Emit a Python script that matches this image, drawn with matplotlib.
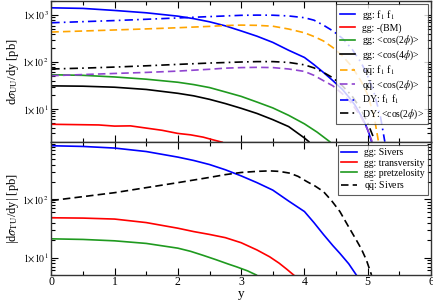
import numpy as np
import matplotlib
matplotlib.use("Agg")
import matplotlib.pyplot as plt
from matplotlib.ticker import LogLocator, FixedLocator, NullFormatter, FuncFormatter

plt.rcParams['font.family'] = ['Liberation Serif', 'DejaVu Serif']
plt.rcParams['mathtext.fontset'] = 'stix'

# ---------------- data ----------------
# Top panel
x_gg_f1 = [0, 0.5, 1, 1.5, 2, 2.25, 2.5, 2.75, 3, 3.25, 3.5, 3.75, 4, 4.15, 4.3, 4.45, 4.6, 4.7, 4.8, 4.9, 4.97, 5.02, 5.06]
y_gg_f1 = [1430, 1390, 1257, 1120, 950, 840, 720, 590, 460, 355, 262, 178, 125, 88, 60, 40, 26, 18, 12, 7, 4.5, 3, 2]

x_gg_bm = [0, 0.25, 0.5, 0.75, 1, 1.25, 1.5, 1.75, 2, 2.2, 2.4, 2.55, 2.7]
y_gg_bm = [4.7, 4.65, 4.6, 4.55, 4.3, 4.35, 3.9, 3.5, 3.0, 2.8, 2.5, 2.2, 1.95]

x_gg_c2 = [0, 0.5, 1, 1.5, 2, 2.25, 2.5, 2.75, 3, 3.25, 3.5, 3.75, 4, 4.2, 4.4]
y_gg_c2 = [53.5, 52, 48, 43, 37, 33, 28.5, 23, 18.5, 14, 10.5, 7.3, 4.8, 3.2, 2]

x_gg_c4 = [0, 0.5, 1, 1.5, 2, 2.25, 2.5, 2.75, 3, 3.25, 3.5, 3.75, 3.9, 4.0, 4.07]
y_gg_c4 = [31, 30.5, 29, 26, 21.5, 19, 16, 13, 10.3, 8, 5.9, 4.2, 3.0, 2.4, 2]

x_qq_f1 = [0, 0.5, 1, 1.5, 2, 2.5, 2.75, 3, 3.25, 3.5, 3.75, 4, 4.15, 4.3, 4.45, 4.6, 4.75, 4.9, 5.0, 5.1, 5.17]
y_qq_f1 = [436, 458, 482, 508, 538, 575, 600, 612, 605, 580, 505, 420, 350, 281, 203, 135, 80, 38, 20, 7, 2]

x_qq_c2 = [0, 0.5, 1, 1.5, 2, 2.5, 2.75, 3, 3.25, 3.5, 3.75, 4, 4.15, 4.3, 4.45, 4.6, 4.75, 4.9, 5.0, 5.07]
y_qq_c2 = [51, 54, 57, 60, 64, 70, 74, 76, 77, 76, 71, 63, 52, 40, 31, 21, 13, 6.5, 3.6, 2]

x_dy_f1 = [0, 0.5, 1, 1.5, 2, 2.5, 3, 3.25, 3.5, 3.75, 4, 4.15, 4.3, 4.45, 4.6, 4.75, 4.9, 5.0, 5.1, 5.2, 5.27]
y_dy_f1 = [687, 725, 765, 815, 870, 930, 990, 1000, 995, 960, 880, 780, 610, 460, 320, 190, 95, 50, 22, 7, 2]

x_dy_c2 = [0, 0.5, 1, 1.5, 2, 2.5, 3, 3.25, 3.5, 3.75, 4, 4.15, 4.3, 4.45, 4.6, 4.75, 4.9, 5.0, 5.1]
y_dy_c2 = [71, 74, 78, 83, 89, 95, 100, 102, 102, 98, 87, 75, 60, 46, 31, 19, 9.5, 5, 2.3]

# Bottom panel
x_siv = [0, 0.5, 1, 1.5, 2, 2.25, 2.5, 2.75, 3, 3.25, 3.5, 3.75, 4, 4.15, 4.3, 4.45, 4.56, 4.7, 4.82]
y_siv = [843, 820, 769, 670, 537, 470, 400, 325, 255, 195, 145, 94, 62, 40, 25, 16, 11.8, 7.8, 5]

x_tra = [0, 0.5, 1, 1.5, 2, 2.25, 2.5, 2.75, 3, 3.25, 3.45, 3.6, 3.72, 3.83]
y_tra = [48.4, 47.8, 46, 40, 32, 28, 25, 22, 18, 13.5, 10.3, 8, 6.3, 5]

x_pre = [0, 0.5, 1, 1.5, 2, 2.2, 2.4, 2.6, 2.8, 2.93, 3.1, 3.24]
y_pre = [21, 20.5, 19.4, 17.5, 14.5, 12.8, 10.9, 9.2, 7.7, 6.9, 5.9, 5]

x_qsiv = [0, 0.5, 1, 1.5, 2, 2.5, 2.75, 3, 3.25, 3.45, 3.6, 3.77, 3.9, 4.04, 4.17, 4.3, 4.43, 4.56, 4.69, 4.82, 4.9, 4.98, 5.06]
y_qsiv = [95.7, 112, 131, 160, 195, 240, 268, 292, 305, 311, 305, 284, 250, 203, 170, 137, 95, 62, 35, 20, 14, 9, 5]

labels_top = [r"gg: f$_1$ f$_1$", "gg: -(BM)", r"gg: <cos(2$\phi$)>", r"gg: <cos(4$\phi$)>",
              r"q$\bar{\rm q}$: f$_1$ f$_1$", r"q$\bar{\rm q}$: <cos(2$\phi$)>",
              r"DY: f$_1$ f$_1$", r"DY: <cos(2$\phi$)>"]
labels_bot = ["gg: Sivers", "gg: transversity", "gg: pretzelosity", r"q$\bar{\rm q}$: Sivers"]

BLUE = '#0000ff'
RED = '#ff0000'
GREEN = '#1f9a1f'
BLACK = '#000000'
ORANGE = '#ffa500'
PURPLE = '#9045d0'

fig = plt.figure(figsize=(4.33, 3.0), dpi=100)
L, R = 0.1185, 0.9954
ax1 = fig.add_axes([L, 0.5277, R - L, 0.9967 - 0.5277])
ax2 = fig.add_axes([L, 0.0833, R - L, 0.5277 - 0.0833])

lw = 1.2
dash = (0, (4.5, 2.5))
dashdot = (0, (5, 2.5, 1, 2.5))
ax1.plot(x_gg_f1, y_gg_f1, color=BLUE, lw=lw, label=labels_top[0])
ax1.plot(x_gg_bm, y_gg_bm, color=RED, lw=lw, label=labels_top[1])
ax1.plot(x_gg_c2, y_gg_c2, color=GREEN, lw=lw, label=labels_top[2])
ax1.plot(x_gg_c4, y_gg_c4, color=BLACK, lw=lw, label=labels_top[3])
ax1.plot(x_qq_f1, y_qq_f1, color=ORANGE, lw=lw, ls=dash, label=labels_top[4])
ax1.plot(x_qq_c2, y_qq_c2, color=PURPLE, lw=lw, ls=dash, label=labels_top[5])
ax1.plot(x_dy_f1, y_dy_f1, color=BLUE, lw=lw, ls=dashdot, label=labels_top[6])
ax1.plot(x_dy_c2, y_dy_c2, color=BLACK, lw=lw, ls=dashdot, label=labels_top[7])

ax2.plot(x_siv, y_siv, color=BLUE, lw=lw, label=labels_bot[0])
ax2.plot(x_tra, y_tra, color=RED, lw=lw, label=labels_bot[1])
ax2.plot(x_pre, y_pre, color=GREEN, lw=lw, label=labels_bot[2])
ax2.plot(x_qsiv, y_qsiv, color=BLACK, lw=lw, ls=dash, label=labels_bot[3])

def sci(v, pos):
    e = int(round(np.log10(v)))
    return r"$1{\times}10^{%d}$" % e

for ax, ylim in ((ax1, (2, 2000)), (ax2, (5, 990))):
    ax.set_yscale('log')
    ax.set_xlim(0, 6)
    ax.set_ylim(*ylim)
    ax.xaxis.set_major_locator(FixedLocator([0, 1, 2, 3, 4, 5, 6]))
    ax.xaxis.set_minor_locator(FixedLocator([0.5, 1.5, 2.5, 3.5, 4.5, 5.5]))
    ax.yaxis.set_major_locator(LogLocator(base=10, numticks=10))
    ax.yaxis.set_minor_locator(LogLocator(base=10, subs=np.arange(2, 10), numticks=10))
    ax.yaxis.set_major_formatter(FuncFormatter(sci))
    ax.yaxis.set_minor_formatter(NullFormatter())
    ax.tick_params(which='both', direction='in', top=True, right=True, width=0.8)
    ax.tick_params(which='major', length=5, labelsize=7, pad=2)
    ax.tick_params(which='minor', length=3)
    for s in ax.spines.values():
        s.set_linewidth(1.0)
        s.set_color('#333333')

ax1.tick_params(axis='x', labelbottom=False)
ax2.tick_params(axis='x', labelsize=8.5, pad=1)
ax2.set_xlabel("y", fontsize=9.5)
ax2.xaxis.set_label_coords(0.5, -0.097)
ax1.set_ylabel(r"d$\sigma_{\rm UU}$/dy [pb]", fontsize=9, labelpad=1)
ax2.set_ylabel(r"|d$\sigma_{\rm TU}$/dy| [pb]", fontsize=9, labelpad=1)

leg_kw = dict(fontsize=7, frameon=True, fancybox=False, edgecolor='#333333',
              handlelength=1.6, handletextpad=0.7, borderpad=0.35, labelspacing=0.12,
              borderaxespad=0.35)
l1 = ax1.legend(loc='upper right', **leg_kw)
l1.get_frame().set_linewidth(0.8)
l2 = ax2.legend(loc='upper right', **leg_kw)
l2.get_frame().set_linewidth(0.8)

fig.savefig("out.png", dpi=100)
